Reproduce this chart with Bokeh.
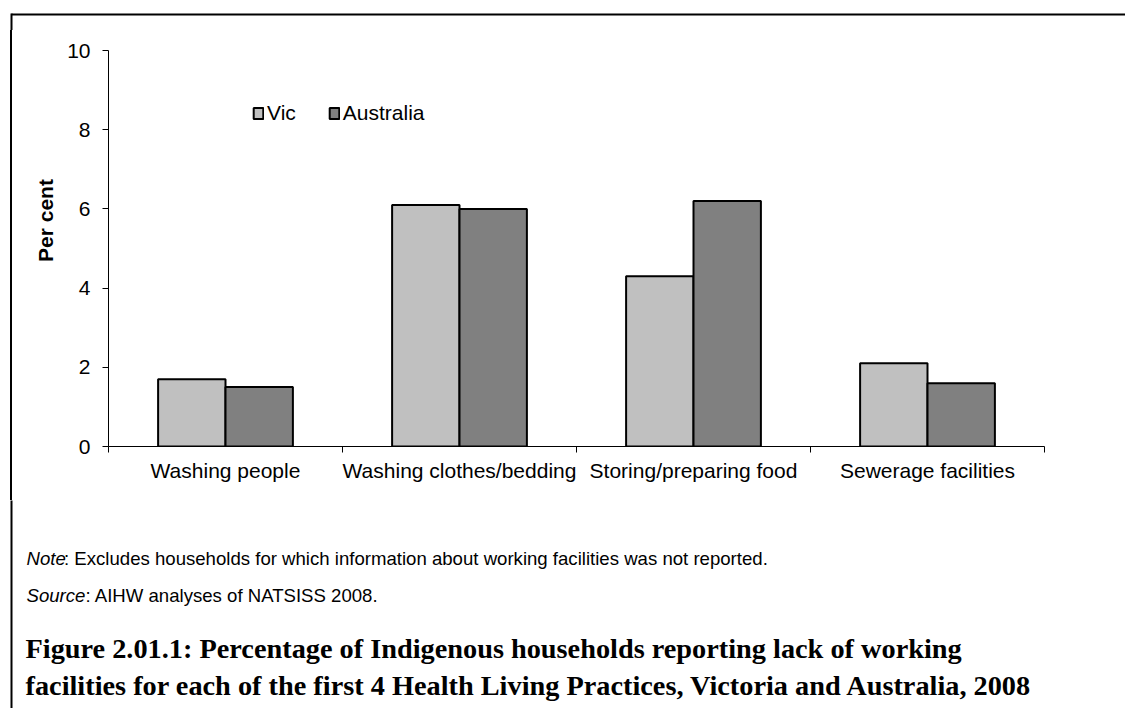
import numpy as np
from bokeh.plotting import figure
from bokeh.layouts import column, row
from bokeh.models import (Range1d, FixedTicker, Label, Legend, LegendItem,
                          ColumnDataSource, Div, Spacer)
from bokeh.embed import file_html
from bokeh.resources import INLINE

categories = ["Washing people", "Washing clothes/bedding",
              "Storing/preparing food", "Sewerage facilities"]
vic = [1.7, 6.1, 4.3, 2.1]
australia = [1.5, 6.0, 6.2, 1.6]
series_names = ["Vic", "Australia"]
series_colors = ["#C0C0C0", "#808080"]
y_ticks = [0, 2, 4, 6, 8, 10]
y_label = "Per cent"
note_lead = "Note"
note_text = ": Excludes households for which information about working facilities was not reported."
source_lead = "Source"
source_text = ": AIHW analyses of NATSISS 2008."
title_lines = ["Figure 2.01.1: Percentage of Indigenous households reporting lack of working",
               "facilities for each of the first 4 Health Living Practices, Victoria and Australia, 2008"]

FONT = "Liberation Sans"
SERIF = "Liberation Serif"
W, H = 1125, 708
TOP_H = 30          # strip holding the top border line
ROW_H = 470         # chart row
TXT_H = H - TOP_H - ROW_H
PAD_W, LINE_W = 10, 2
LEFT_W = 46         # strip holding the y-axis title
BORDER_X, BORDER_Y = 11, 14
FRAME_L, FRAME_T, FRAME_R, FRAME_B = 108, 50, 1044, 446


def strip(w, h, xr, yr):
    f = figure(width=w, height=h, x_range=xr, y_range=yr,
               output_backend="svg", toolbar_location=None,
               x_axis_location=None, y_axis_location=None,
               min_border=0, min_border_left=0, min_border_right=0,
               min_border_top=0, min_border_bottom=0)
    f.outline_line_color = None
    f.xgrid.grid_line_color = None
    f.ygrid.grid_line_color = None
    f.background_fill_color = "white"
    f.border_fill_color = "white"
    return f


def lab(f, x, y, text, size, font=FONT, style="normal", angle=0, align="left"):
    f.add_layout(Label(x=x, y=y, text=text,
                       text_font=font, text_font_size=size, text_font_style=style,
                       text_color="black", text_align=align, text_baseline="middle",
                       angle=angle))


# ---- top strip: top border of the figure box
top = strip(W, TOP_H, Range1d(0, W), Range1d(TOP_H, 0))
top.segment(x0=[BORDER_X, BORDER_X], y0=[BORDER_Y, BORDER_Y - 1],
            x1=[W + 5, BORDER_X], y1=[BORDER_Y, TOP_H + 2],
            line_color="black", line_width=2)

# ---- left border line and y-axis title strip
pad = Spacer(width=PAD_W, height=ROW_H, margin=0)
vline = Div(text="", width=LINE_W, height=ROW_H, margin=0,
            styles={"background-color": "black"})
x_left0 = PAD_W + LINE_W
left = strip(LEFT_W, ROW_H, Range1d(x_left0, x_left0 + LEFT_W), Range1d(FRAME_B, FRAME_T))
lab(left, 44.5, 220, y_label, "21px", style="bold", angle=np.pi / 2, align="center")

# ---- chart
chart_w = W - PAD_W - LINE_W - LEFT_W
p = figure(width=chart_w, height=ROW_H,
           x_range=Range1d(0, len(categories)), y_range=Range1d(0, 10),
           output_backend="svg", toolbar_location=None,
           min_border_left=FRAME_L - (W - chart_w), min_border_right=W - FRAME_R,
           min_border_top=FRAME_T - TOP_H, min_border_bottom=TOP_H + ROW_H - FRAME_B)
p.outline_line_color = None
p.xgrid.grid_line_color = None
p.ygrid.grid_line_color = None
p.background_fill_color = "white"
p.border_fill_color = "white"

centers = np.arange(len(categories)) + 0.5
bw = 0.288
src = ColumnDataSource(dict(xv=centers - bw / 2, xa=centers + bw / 2,
                            vic=vic, aus=australia))
r1 = p.vbar(x="xv", top="vic", width=bw, bottom=0, source=src,
            fill_color=series_colors[0], line_color="black", line_width=2)
r2 = p.vbar(x="xa", top="aus", width=bw, bottom=0, source=src,
            fill_color=series_colors[1], line_color="black", line_width=2)

xa = p.xaxis[0]
xa.ticker = FixedTicker(ticks=list(centers),
                        minor_ticks=list(range(0, len(categories) + 1)))
xa.major_label_overrides = {float(c): n for c, n in zip(centers, categories)}
xa.major_tick_out = 0
xa.major_tick_in = 0
xa.minor_tick_out = 6
xa.minor_tick_in = 0
xa.minor_tick_line_color = "black"
xa.axis_line_color = "black"
xa.major_label_standoff = 6
xa.major_label_text_font = FONT
xa.major_label_text_font_size = "21px"
xa.major_label_text_color = "black"

ya = p.yaxis[0]
ya.ticker = FixedTicker(ticks=y_ticks, minor_ticks=[])
ya.major_tick_out = 6
ya.major_tick_in = 0
ya.major_tick_line_color = "black"
ya.axis_line_color = "black"
ya.major_label_standoff = 12
ya.major_label_text_font = FONT
ya.major_label_text_font_size = "21px"
ya.major_label_text_color = "black"

legend = Legend(items=[LegendItem(label=series_names[0], renderers=[r1]),
                       LegendItem(label=series_names[1], renderers=[r2])],
                orientation="horizontal", location=(144, 321),
                glyph_width=12, glyph_height=14, label_standoff=3, spacing=32,
                padding=0, margin=0, border_line_color=None,
                background_fill_alpha=0,
                label_text_font=FONT, label_text_font_size="21px",
                label_text_color="black")
p.add_layout(legend)

# ---- text strip: note, source and figure title
y0 = TOP_H + ROW_H
txt = strip(W, TXT_H, Range1d(0, W), Range1d(y0 + TXT_H, y0))
txt.segment(x0=[BORDER_X], y0=[y0 - 2], x1=[BORDER_X], y1=[H + 2],
            line_color="black", line_width=2)
lab(txt, 26, 558, note_lead, "18.6px", style="italic")
lab(txt, 63.5, 558, note_text, "18.6px")
lab(txt, 26, 595, source_lead, "18.6px", style="italic")
lab(txt, 85, 595, source_text, "18.6px")
lab(txt, 25, 648, title_lines[0], "28.3px", font=SERIF, style="bold")
lab(txt, 25, 685, title_lines[1], "28.3px", font=SERIF, style="bold")

layout = column(top, row(pad, vline, left, p), txt)
open("out.html", "w").write(file_html(layout, INLINE))
